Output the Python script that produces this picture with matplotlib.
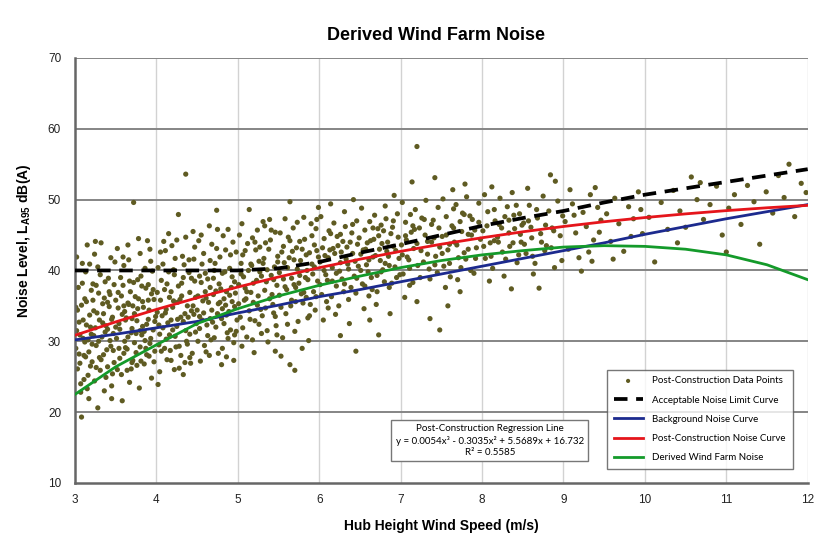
import matplotlib
matplotlib.use('Agg')
import matplotlib.pyplot as plt

# curves, every 0.5 m/s
curve_speed = [3, 3.5, 4, 4.5, 5, 5.5, 6, 6.5, 7, 7.5, 8, 8.5, 9, 9.5, 10, 10.5, 11, 11.5, 12]
limit_curve = [40.0, 40.0, 40.0, 40.0, 40.0, 40.3, 41.2, 42.5, 43.7, 45.0, 46.3, 47.4, 48.4, 49.6, 50.7, 51.6, 52.5, 53.4, 54.3]
background_curve = [30.2, 31.0, 31.9, 32.8, 34.0, 35.1, 36.3, 37.3, 38.4, 39.5, 40.6, 41.7, 42.8, 43.9, 45.1, 46.2, 47.3, 48.3, 49.3]
post_curve = [30.85, 32.74, 34.50, 36.14, 37.66, 39.08, 40.39, 41.59, 42.70, 43.71, 44.62, 45.46, 46.21, 46.88, 47.47, 47.99, 48.45, 48.85, 49.19]
derived_curve = [22.5, 26.4, 29.5, 32.5, 34.6, 36.4, 37.9, 39.2, 40.4, 41.4, 42.2, 42.8, 43.3, 43.5, 43.4, 43.0, 42.2, 40.8, 38.7]

# post-construction data points (wind speed, noise level), estimated by band
points_3_35 = [(3.02,31.5),(3.05,28.2),(3.08,35.1),(3.11,24.6),(3.13,39.8),(3.16,30.2),(3.18,33.7),(3.21,27.1),(3.24,42.3),(3.26,29.4),
    (3.29,36.8),(3.31,25.9),(3.34,32.6),(3.37,38.4),(3.39,28.8),(3.42,34.9),(3.45,23.7),(3.47,31.1),(3.49,41.2),(3.04,37.6),
    (3.07,22.8),(3.10,33.0),(3.12,29.9),(3.15,43.6),(3.19,26.5),(3.22,35.8),(3.25,31.9),(3.28,40.5),(3.30,27.7),(3.33,30.6),
    (3.36,36.1),(3.38,24.9),(3.41,38.9),(3.44,29.3),(3.46,33.4),(3.48,27.0),(3.03,34.4),(3.06,26.9),(3.09,41.0),(3.14,32.3),
    (3.17,28.5),(3.20,37.2),(3.23,30.8),(3.27,34.0),(3.32,43.9),(3.35,28.1),(3.40,31.7),(3.43,36.6),(3.46,25.4),(3.08,19.3),
    (3.28,20.6),(3.17,21.9),(3.01,29.0),(3.35,33.9),(3.22,38.1),(3.12,36.0),(3.44,41.8),(3.38,32.2),(3.26,26.3),(3.05,32.7)]
points_35_4 = [(3.51,30.4),(3.53,36.9),(3.55,27.6),(3.58,33.8),(3.60,40.7),(3.62,29.1),(3.65,35.4),(3.67,24.2),(3.70,31.8),(3.72,38.3),
    (3.75,28.4),(3.77,34.6),(3.80,42.4),(3.82,30.9),(3.85,26.8),(3.87,37.5),(3.90,33.1),(3.92,29.7),(3.95,39.9),(3.97,35.9),
    (3.52,43.1),(3.54,32.5),(3.57,25.3),(3.59,37.9),(3.61,34.2),(3.64,28.9),(3.66,41.5),(3.69,31.2),(3.71,27.3),(3.74,36.3),
    (3.76,32.9),(3.79,23.4),(3.81,39.2),(3.84,34.8),(3.86,30.1),(3.89,44.2),(3.91,27.9),(3.94,36.7),(3.96,31.6),(3.99,33.5),
    (3.56,39.0),(3.63,33.3),(3.68,37.0),(3.73,29.8),(3.78,44.5),(3.83,35.6),(3.88,32.4),(3.93,41.3),(3.98,28.6),(3.58,21.6),
    (3.72,49.6),(3.61,30.0),(3.69,26.1),(3.77,38.7),(3.85,31.4),(3.94,24.8),(3.53,34.7),(3.66,35.2),(3.81,27.2),(3.90,38.0)]
points_3_4_more = [(3.01,34.8),(3.03,26.1),(3.06,30.9),(3.09,38.2),(3.11,28.0),(3.14,35.6),(3.16,25.2),(3.19,32.0),(3.21,29.6),(3.23,34.3),
    (3.26,37.9),(3.29,30.0),(3.32,27.4),(3.34,35.3),(3.37,31.3),(3.40,26.4),(3.42,37.0),(3.45,33.1),(3.47,28.7),(3.50,35.8),
    (3.52,26.0),(3.55,31.7),(3.57,36.4),(3.60,28.3),(3.62,33.0),(3.65,30.6),(3.67,38.5),(3.70,27.0),(3.73,33.9),(3.75,31.1),
    (3.78,36.0),(3.80,29.2),(3.83,32.1),(3.86,40.3),(3.88,28.1),(3.91,34.4),(3.93,30.4),(3.96,37.3),(3.98,32.8),(3.02,41.9),
    (3.07,24.0),(3.13,27.8),(3.18,40.9),(3.24,24.4),(3.31,39.4),(3.36,23.0),(3.43,30.1),(3.48,38.0),(3.54,29.0),(3.59,41.9),
    (3.64,25.9),(3.71,35.0),(3.76,26.6),(3.82,37.8),(3.87,29.0),(3.92,43.0),(3.97,27.1),(3.10,30.4),(3.20,31.0),(3.30,33.0),
    (3.40,35.5),(3.50,32.0),(3.60,35.0),(3.70,33.2),(3.80,31.5),(3.90,35.8),(3.15,23.3),(3.45,21.9),(3.25,44.1),(3.65,43.6)]
points_4_45 = [(4.01,34.1),(4.03,29.5),(4.06,38.6),(4.08,31.9),(4.11,42.8),(4.13,27.4),(4.16,36.2),(4.18,33.0),(4.21,40.1),(4.23,30.7),
    (4.26,35.5),(4.28,26.2),(4.31,38.2),(4.33,32.8),(4.36,44.7),(4.38,29.6),(4.41,36.9),(4.43,34.3),(4.46,41.6),(4.48,31.3),
    (4.02,40.4),(4.04,25.7),(4.07,33.6),(4.10,37.3),(4.12,30.3),(4.15,45.2),(4.17,28.7),(4.20,34.8),(4.22,39.4),(4.25,32.1),
    (4.27,37.8),(4.30,28.0),(4.32,42.0),(4.35,33.9),(4.37,30.0),(4.40,39.7),(4.42,26.9),(4.45,35.0),(4.47,43.3),(4.49,32.5),
    (4.05,35.8),(4.14,32.6),(4.19,43.5),(4.24,29.2),(4.29,35.9),(4.34,40.8),(4.39,33.4),(4.44,28.3),(4.36,53.6),(4.22,26.0),
    (4.09,44.1),(4.27,47.9),(4.33,25.3),(4.41,31.0),(4.18,37.0),(4.47,38.5),(4.12,34.5),(4.04,31.0)]
points_45_5 = [(4.51,36.4),(4.53,31.8),(4.56,40.9),(4.58,34.0),(4.61,28.5),(4.63,38.8),(4.66,33.2),(4.68,43.7),(4.71,30.5),(4.73,37.1),
    (4.76,35.3),(4.78,41.9),(4.81,29.0),(4.83,36.0),(4.86,33.7),(4.88,45.8),(4.91,31.6),(4.93,39.1),(4.96,34.9),(4.98,42.6),
    (4.52,44.2),(4.54,27.2),(4.57,35.7),(4.60,39.6),(4.62,32.3),(4.65,46.3),(4.67,30.2),(4.70,36.6),(4.72,41.0),(4.75,33.9),
    (4.77,38.1),(4.80,26.7),(4.82,44.9),(4.85,35.1),(4.87,31.2),(4.90,40.3),(4.92,37.6),(4.95,29.8),(4.97,36.8),(4.99,33.0),
    (4.55,38.3),(4.64,35.5),(4.69,32.7),(4.74,43.1),(4.79,37.4),(4.84,39.8),(4.89,34.2),(4.94,44.0),(4.59,29.4),(4.74,48.5),
    (4.86,27.8),(4.66,41.4),(4.81,34.6),(4.96,30.9),(4.53,33.5)]
points_4_5_more = [(4.01,36.9),(4.03,32.3),(4.06,28.6),(4.08,40.9),(4.11,34.0),(4.13,38.1),(4.16,30.9),(4.18,27.3),(4.21,35.7),(4.23,41.7),
    (4.26,33.1),(4.28,29.3),(4.31,36.4),(4.33,39.0),(4.36,31.5),(4.38,35.0),(4.41,27.7),(4.43,38.9),(4.46,33.8),(4.48,36.2),
    (4.51,30.0),(4.53,39.2),(4.56,33.0),(4.58,42.4),(4.61,36.1),(4.63,30.8),(4.66,37.6),(4.68,34.4),(4.71,40.0),(4.73,32.0),
    (4.76,28.3),(4.78,35.5),(4.81,39.6),(4.83,32.5),(4.86,37.0),(4.88,30.4),(4.91,42.2),(4.93,35.6),(4.96,38.4),(4.98,31.4),
    (4.05,42.6),(4.15,39.8),(4.25,44.3),(4.35,27.0),(4.45,45.5),(4.55,45.0),(4.65,28.0),(4.75,45.8),(4.85,42.9),(4.95,27.3),
    (4.10,29.0),(4.20,31.6),(4.30,33.4),(4.40,41.5),(4.50,34.4),(4.60,37.0),(4.70,38.9),(4.80,33.2),(4.90,36.5),(4.02,23.9)]
points_5_55 = [(5.01,38.0),(5.03,33.4),(5.06,42.2),(5.08,35.8),(5.11,30.6),(5.13,40.0),(5.16,36.9),(5.18,44.6),(5.21,32.9),(5.23,38.6),
    (5.26,41.3),(5.28,34.5),(5.31,46.9),(5.33,37.2),(5.36,31.5),(5.38,43.0),(5.41,39.3),(5.43,35.2),(5.46,45.4),(5.48,37.9),
    (5.02,45.0),(5.05,29.3),(5.07,39.1),(5.10,36.0),(5.12,43.8),(5.15,33.1),(5.17,40.7),(5.20,28.4),(5.22,42.9),(5.25,36.4),
    (5.27,39.8),(5.30,33.6),(5.32,41.7),(5.35,38.4),(5.37,29.9),(5.40,44.3),(5.42,36.6),(5.45,40.5),(5.47,32.2),(5.49,42.0),
    (5.14,48.6),(5.29,31.1),(5.39,47.2),(5.09,37.5),(5.24,45.7),(5.44,34.0),(5.19,35.5),(5.34,43.9),(5.04,41.0),(5.46,28.6)]
points_55_6 = [(5.51,39.7),(5.53,34.8),(5.56,43.4),(5.58,37.7),(5.61,32.4),(5.63,41.8),(5.66,38.9),(5.68,46.0),(5.71,35.6),(5.73,40.2),
    (5.76,44.1),(5.78,36.7),(5.81,47.5),(5.83,39.0),(5.86,33.3),(5.88,42.5),(5.91,40.9),(5.93,37.0),(5.96,45.9),(5.98,38.5),
    (5.52,45.3),(5.55,30.5),(5.57,41.1),(5.60,37.3),(5.62,44.7),(5.65,35.0),(5.67,42.7),(5.70,31.4),(5.72,43.2),(5.75,38.2),
    (5.77,41.4),(5.80,35.4),(5.82,44.4),(5.85,40.0),(5.87,30.1),(5.90,46.6),(5.92,39.5),(5.95,34.4),(5.97,42.8),(5.99,48.9),
    (5.64,49.7),(5.79,29.0),(5.69,38.0),(5.84,36.2),(5.94,43.6),(5.64,26.7),(5.70,25.9)]
points_5_6_more = [(5.01,35.3),(5.04,39.5),(5.06,31.9),(5.09,42.8),(5.11,37.0),(5.14,34.3),(5.16,40.9),(5.19,38.2),(5.21,44.0),(5.24,35.1),
    (5.26,32.4),(5.29,39.2),(5.31,41.0),(5.34,34.7),(5.36,40.1),(5.39,36.0),(5.41,45.7),(5.44,38.7),(5.46,33.5),(5.49,41.2),
    (5.51,36.5),(5.54,42.6),(5.56,38.8),(5.59,33.9),(5.61,40.4),(5.64,44.2),(5.66,35.8),(5.69,41.5),(5.71,37.6),(5.74,32.8),
    (5.76,39.3),(5.79,43.0),(5.81,36.9),(5.84,42.2),(5.86,38.7),(5.89,35.2),(5.91,44.9),(5.94,40.5),(5.96,36.3),(5.99,41.9),
    (5.05,46.6),(5.18,30.2),(5.33,46.3),(5.48,30.9),(5.58,47.3),(5.73,46.8),(5.88,33.6),(5.97,47.2),(5.27,43.3),(5.53,27.9)]
points_6_65 = [(6.01,41.2),(6.03,36.6),(6.06,44.5),(6.08,39.4),(6.11,34.7),(6.13,42.9),(6.16,40.4),(6.18,46.7),(6.21,37.8),(6.23,43.5),
    (6.26,45.1),(6.28,38.8),(6.31,48.3),(6.33,41.6),(6.36,35.9),(6.38,44.0),(6.41,42.4),(6.43,39.2),(6.46,47.0),(6.48,40.6),
    (6.02,47.6),(6.05,33.0),(6.07,42.1),(6.10,38.6),(6.12,45.6),(6.15,36.3),(6.17,43.1),(6.20,33.8),(6.22,44.8),(6.25,39.9),
    (6.27,42.6),(6.30,37.0),(6.32,46.2),(6.35,40.9),(6.37,32.5),(6.40,45.3),(6.42,50.0),(6.45,36.8),(6.47,43.7),(6.26,30.8),
    (6.45,28.6),(6.14,49.4)]
points_65_7 = [(6.51,42.3),(6.53,38.1),(6.56,45.7),(6.58,40.8),(6.61,36.4),(6.63,44.2),(6.66,41.9),(6.68,47.8),(6.71,39.3),(6.73,44.9),
    (6.76,46.4),(6.78,40.1),(6.81,49.1),(6.83,42.7),(6.86,37.6),(6.88,45.2),(6.91,43.4),(6.93,40.5),(6.96,48.0),(6.98,41.7),
    (6.52,48.8),(6.55,34.6),(6.57,43.0),(6.60,39.8),(6.62,46.9),(6.65,37.3),(6.67,44.4),(6.70,35.2),(6.72,45.9),(6.75,41.4),
    (6.77,43.8),(6.80,38.4),(6.82,47.3),(6.85,42.0),(6.87,33.9),(6.90,46.1),(6.95,39.0),(6.73,30.9),(6.62,33.0),(6.92,50.6)]
points_6_7_more = [(6.01,38.0),(6.04,43.2),(6.06,40.0),(6.09,35.6),(6.11,41.8),(6.14,45.2),(6.16,38.5),(6.19,42.4),(6.21,39.6),(6.24,35.0),
    (6.26,41.1),(6.29,44.1),(6.31,38.1),(6.34,43.3),(6.36,40.2),(6.39,37.6),(6.41,46.5),(6.44,41.3),(6.46,38.9),(6.49,44.6),
    (6.51,40.0),(6.54,42.9),(6.56,37.8),(6.59,43.9),(6.61,41.5),(6.64,39.0),(6.66,46.0),(6.69,42.1),(6.71,37.0),(6.74,43.0),
    (6.76,39.8),(6.79,45.6),(6.81,41.0),(6.84,44.0),(6.86,40.7),(6.89,38.2),(6.91,47.0),(6.94,42.8),(6.97,44.7),(6.99,39.4)]
points_7_75 = [(7.01,43.6),(7.03,39.5),(7.06,46.8),(7.08,41.9),(7.11,37.9),(7.13,45.4),(7.16,43.1),(7.18,48.6),(7.21,40.7),(7.23,46.0),
    (7.26,47.4),(7.28,41.2),(7.31,49.9),(7.33,44.1),(7.36,38.8),(7.38,46.5),(7.41,44.6),(7.43,42.0),(7.46,48.9),(7.48,43.3),
    (7.02,49.6),(7.05,36.2),(7.07,44.3),(7.10,41.5),(7.12,47.9),(7.15,38.3),(7.17,45.8),(7.20,35.6),(7.25,42.8),(7.30,45.0),
    (7.35,40.2),(7.40,47.1),(7.45,39.7),(7.14,52.5),(7.20,57.5),(7.42,53.1),(7.36,33.2),(7.48,31.6)]
points_75_8 = [(7.51,44.8),(7.53,40.6),(7.56,47.6),(7.58,42.9),(7.61,39.1),(7.63,46.3),(7.66,44.0),(7.68,49.3),(7.71,41.8),(7.73,46.9),
    (7.76,48.1),(7.78,42.5),(7.81,50.4),(7.83,45.1),(7.86,40.0),(7.88,47.2),(7.91,45.7),(7.93,43.2),(7.96,49.5),(7.98,44.4),
    (7.52,50.1),(7.55,37.6),(7.60,43.7),(7.65,48.7),(7.70,38.7),(7.75,45.5),(7.80,41.6),(7.85,47.7),(7.90,39.6),(7.58,35.0),
    (7.73,37.0),(7.79,52.2),(7.64,51.4)]
points_8_85 = [(8.01,45.6),(8.04,41.7),(8.07,48.3),(8.10,43.9),(8.13,40.3),(8.16,47.0),(8.19,44.7),(8.22,50.2),(8.25,42.6),(8.28,47.6),
    (8.31,49.0),(8.34,43.4),(8.37,51.0),(8.40,45.9),(8.43,41.1),(8.46,48.0),(8.49,46.4),(8.03,50.7),(8.09,38.5),(8.15,44.2),
    (8.21,46.5),(8.27,39.2),(8.33,45.3),(8.39,47.8),(8.45,42.2),(8.12,51.8),(8.36,37.4),(8.48,44.0)]
points_85_9 = [(8.51,46.7),(8.54,42.4),(8.58,49.2),(8.61,44.6),(8.65,41.0),(8.68,47.4),(8.72,45.2),(8.75,50.5),(8.79,43.5),(8.82,48.4),
    (8.86,46.0),(8.89,40.4),(8.93,49.8),(8.96,44.9),(8.99,47.7),(8.56,51.6),(8.63,39.5),(8.70,37.5),(8.77,42.8),(8.84,53.5),
    (8.90,52.6),(8.98,41.4),(8.60,46.1),(8.88,45.6)]
points_7_9_more = [(7.02,42.2),(7.06,44.9),(7.11,40.3),(7.15,46.3),(7.20,43.8),(7.24,39.0),(7.29,47.2),(7.33,42.3),(7.38,44.0),(7.42,40.8),
    (7.47,46.0),(7.51,42.4),(7.56,45.0),(7.60,41.0),(7.65,46.0),(7.69,43.6),(7.74,40.4),(7.78,47.9),(7.83,43.0),(7.87,45.0),
    (7.92,41.7),(7.96,46.8),(8.02,43.4),(8.06,46.3),(8.11,42.0),(8.15,48.6),(8.20,44.0),(8.24,46.0),(8.29,41.6),(8.33,47.1),
    (8.38,43.9),(8.42,49.2),(8.47,45.1),(8.52,43.7),(8.57,47.0),(8.62,42.0),(8.67,48.6),(8.73,44.0),(8.78,46.4),(8.85,43.2)]
points_9_10 = [(9.02,46.9),(9.06,43.0),(9.11,49.4),(9.15,45.3),(9.19,41.8),(9.24,48.2),(9.28,46.2),(9.33,50.7),(9.37,44.3),(9.42,48.9),
    (9.46,47.1),(9.08,51.4),(9.22,39.9),(9.31,42.6),(9.39,51.7),(9.44,45.4),(9.13,47.8),(9.35,41.3),
    (9.53,48.0),(9.58,44.1),(9.63,50.2),(9.68,46.6),(9.74,42.7),(9.80,49.0),(9.86,47.3),(9.92,51.1),(9.97,45.2),(9.61,41.6),
    (9.83,44.8),(9.95,48.6)]
points_10_12 = [(10.05,47.5),(10.12,41.2),(10.20,49.6),(10.28,45.8),(10.35,51.3),(10.43,48.4),(10.50,46.1),(10.57,53.2),(10.64,50.0),
    (10.72,47.2),(10.80,49.3),(10.88,51.9),(10.95,45.0),(11.03,48.8),(11.10,50.7),(11.18,46.5),(11.26,52.0),(11.34,49.7),
    (11.41,43.7),(11.49,51.1),(11.57,48.1),(11.64,53.4),(11.71,50.3),(11.77,55.0),(11.84,47.6),(11.92,52.3),(11.98,51.0),
    (10.40,43.9),(11.00,42.6),(10.68,52.4)]

x_ticks = [3, 4, 5, 6, 7, 8, 9, 10, 11, 12]
y_ticks = [10, 20, 30, 40, 50, 60, 70]

legend_labels = ['Post-Construction Data Points', 'Acceptable Noise Limit Curve', 'Background Noise Curve',
                 'Post-Construction Noise Curve', 'Derived Wind Farm Noise']
regression_text = 'Post-Construction Regression Line\ny = 0.0054x\u00b3 - 0.3035x\u00b2 + 5.5689x + 16.732\nR\u00b2 = 0.5585'


def main():
    plt.rcParams['font.family'] = ['Liberation Sans', 'DejaVu Sans']
    plt.rcParams['mathtext.fontset'] = 'custom'
    plt.rcParams['mathtext.bf'] = 'Liberation Sans:bold'
    plt.rcParams['mathtext.rm'] = 'Liberation Sans'

    all_points = (points_3_35 + points_35_4 + points_3_4_more + points_4_45 + points_45_5 + points_4_5_more
                  + points_5_55 + points_55_6 + points_5_6_more + points_6_65 + points_65_7 + points_6_7_more
                  + points_7_75 + points_75_8 + points_8_85 + points_85_9 + points_7_9_more
                  + points_9_10 + points_10_12)
    px = [p[0] for p in all_points]
    py = [p[1] for p in all_points]

    fig = plt.figure(figsize=(8.27, 5.42), dpi=100)
    ax = fig.add_axes([0.0907, 0.109, 0.886, 0.784])

    ax.scatter(px, py, s=14, color='#5f5b22', edgecolors='none', zorder=2, label=legend_labels[0])
    ax.plot(curve_speed, limit_curve, color='black', lw=2.7, dashes=(3.6, 2.3), zorder=5, label=legend_labels[1])
    ax.plot(curve_speed, background_curve, color='#1c2a8e', lw=2.0, zorder=4, label=legend_labels[2])
    ax.plot(curve_speed, post_curve, color='#e5151b', lw=2.0, zorder=4, label=legend_labels[3])
    ax.plot(curve_speed, derived_curve, color='#149a2a', lw=2.0, zorder=4, label=legend_labels[4])

    ax.set_xlim(3, 12)
    ax.set_ylim(10, 70)
    ax.set_xticks(x_ticks)
    ax.set_yticks(y_ticks)
    ax.tick_params(length=0, labelsize=8.5, colors='#222222')
    ax.tick_params(axis='y', pad=10)
    ax.tick_params(axis='x', pad=8)

    # excel style grid: light verticals, darker horizontals
    for xv in x_ticks[1:]:
        ax.axvline(xv, color='#d2d2d2', lw=1.0, zorder=0)
    for yv in y_ticks[1:]:
        ax.axhline(yv, color='#858585', lw=1.4, zorder=1)
    for side in ['top', 'right']:
        ax.spines[side].set_visible(False)
    for side in ['left', 'bottom']:
        ax.spines[side].set_color('#666666')
        ax.spines[side].set_linewidth(1.8)

    fig.text(0.527, 0.935, 'Derived Wind Farm Noise', ha='center', va='center',
             fontsize=13, fontweight='bold')
    ax.set_xlabel('Hub Height Wind Speed (m/s)', fontsize=10, fontweight='bold')
    ax.xaxis.set_label_coords(0.5, -0.085)
    ax.set_ylabel(r'Noise Level, $\mathbf{L_{A95}}$ dB(A)', fontsize=10, fontweight='bold')
    ax.yaxis.set_label_coords(-0.058, 0.57)

    leg = ax.legend(loc='upper left', bbox_to_anchor=(0.719, 0.278), frameon=True, fancybox=False,
                    prop={'family': ['Lato', 'DejaVu Sans'], 'size': 7}, handlelength=3.0,
                    labelspacing=1.05, borderpad=0.7, markerscale=0.8, handletextpad=1.0)
    leg.get_frame().set_edgecolor('#555555')
    leg.get_frame().set_linewidth(1.0)

    ax.text(0.566, 0.100, regression_text, transform=ax.transAxes, ha='center', va='center',
            fontsize=7, family=['Lato', 'DejaVu Sans'], linespacing=1.3, zorder=6,
            bbox=dict(boxstyle='square,pad=0.45', facecolor='white', edgecolor='#777777', lw=1.0))

    plt.savefig('out.png', dpi=100)
    return


if __name__ == "__main__":
    main()
